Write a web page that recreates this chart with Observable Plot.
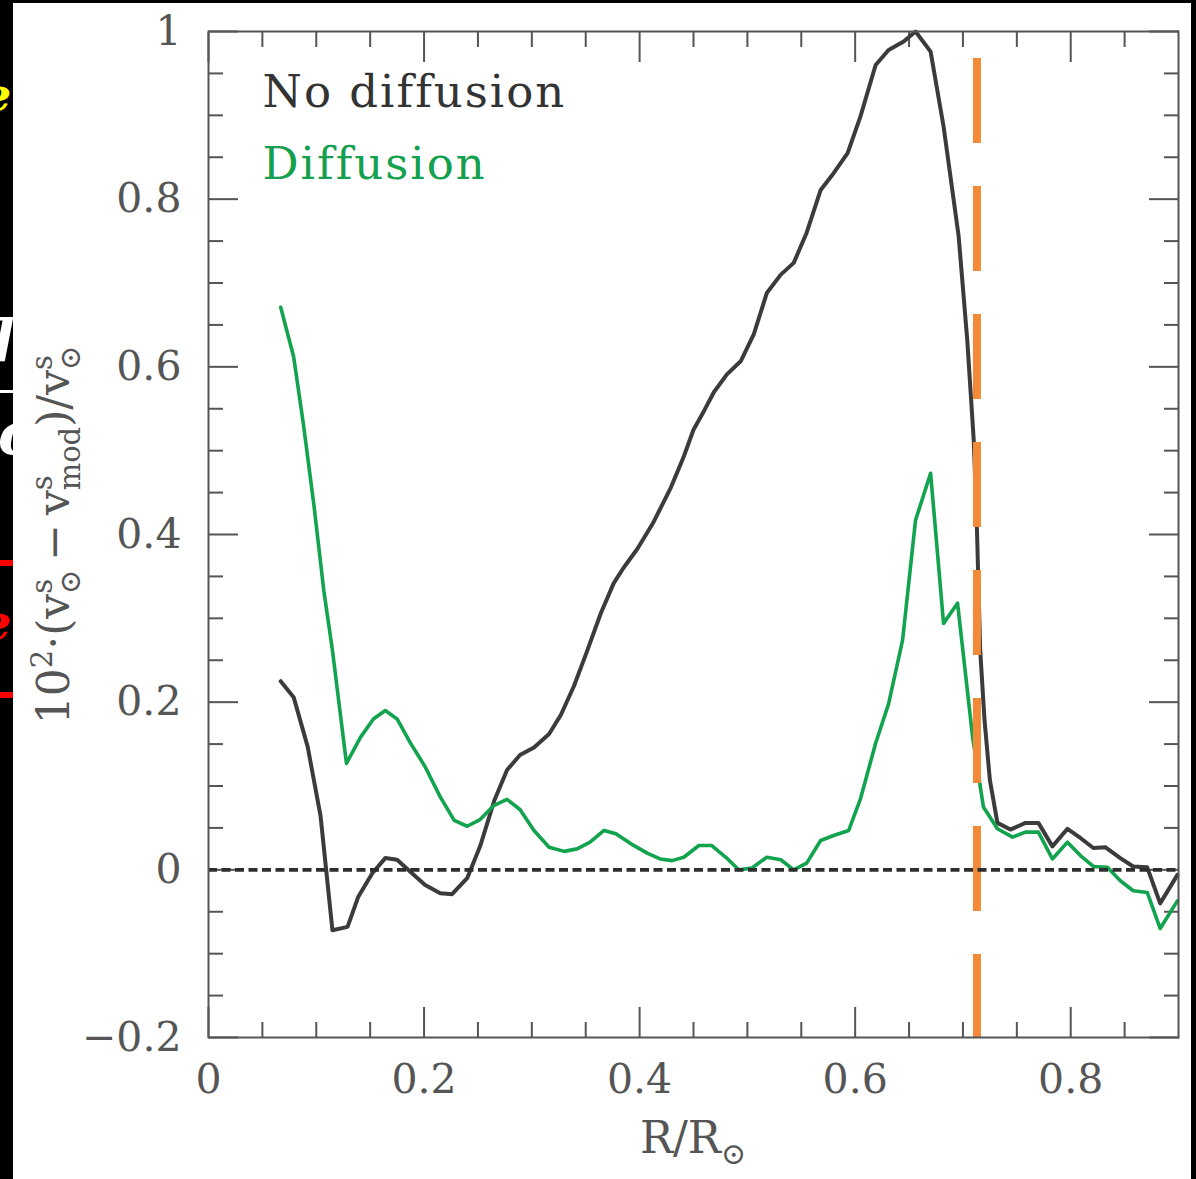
<!DOCTYPE html>
<html><head><meta charset="utf-8">
<script src="https://cdn.jsdelivr.net/npm/d3@7"></script>
<script src="https://cdn.jsdelivr.net/npm/@observablehq/plot@0.6"></script>
<style>
html,body{margin:0;padding:0;background:#000;width:1196px;height:1179px;overflow:hidden;}
#panel{position:absolute;left:13px;top:3px;width:1178px;height:1176px;background:#fff;}
#strip{position:absolute;left:0;top:0;width:13px;height:1179px;overflow:hidden;}
.frag{position:absolute;font-family:"DejaVu Serif";font-style:italic;font-weight:bold;white-space:nowrap;line-height:1;}
.bar{position:absolute;left:0;width:13px;}
</style></head><body>
<div id="strip">
  <div class="frag" style="top:72px;left:-18px;font-size:46px;color:#ffff00;">e</div>
  <div class="frag" style="top:312px;left:-26px;font-size:58px;color:#fff;">d</div>
  <div class="bar" style="top:390px;height:3px;background:#fff;"></div>
  <div class="frag" style="top:405px;left:-2px;font-size:58px;color:#fff;">c</div>
  <div class="bar" style="top:560px;height:6px;background:#ff0000;"></div>
  <div class="frag" style="top:598px;left:-20px;font-size:50px;color:#ff0000;">e</div>
  <div class="bar" style="top:692px;height:6px;background:#ff0000;"></div>
</div>
<div id="panel"></div>
<script>
// ---- data ----
const noDiffR = [0.067,0.079,0.092,0.104,0.115,0.129,0.139,0.152,0.164,0.175,0.187,0.201,0.215,0.226,0.240,0.252,0.265,0.277,0.289,0.302,0.316,0.327,0.339,0.351,0.364,0.376,0.385,0.398,0.413,0.429,0.441,0.450,0.460,0.469,0.481,0.494,0.506,0.518,0.531,0.543,0.555,0.568,0.580,0.593,0.605,0.619,0.631,0.645,0.656,0.670,0.682,0.696,0.704,0.710,0.713,0.716,0.720,0.725,0.732,0.744,0.758,0.770,0.783,0.797,0.809,0.821,0.832,0.846,0.858,0.871,0.883,0.899];
const noDiffV = [0.225,0.206,0.147,0.064,-0.072,-0.068,-0.032,-0.004,0.014,0.012,-0.002,-0.018,-0.028,-0.029,-0.010,0.028,0.082,0.119,0.137,0.146,0.162,0.185,0.219,0.260,0.306,0.342,0.360,0.383,0.415,0.456,0.493,0.525,0.548,0.570,0.591,0.607,0.639,0.688,0.710,0.724,0.760,0.811,0.831,0.855,0.899,0.960,0.978,0.988,1.000,0.976,0.887,0.756,0.632,0.513,0.406,0.262,0.179,0.107,0.056,0.048,0.056,0.056,0.028,0.049,0.038,0.026,0.027,0.014,0.004,0.003,-0.040,-0.006];
const diffR = [0.067,0.079,0.088,0.098,0.107,0.115,0.128,0.141,0.153,0.164,0.175,0.187,0.201,0.215,0.228,0.240,0.252,0.265,0.277,0.289,0.302,0.316,0.330,0.342,0.354,0.367,0.378,0.392,0.407,0.419,0.430,0.441,0.455,0.467,0.480,0.492,0.504,0.518,0.531,0.543,0.555,0.568,0.580,0.594,0.605,0.619,0.631,0.644,0.656,0.670,0.682,0.695,0.709,0.719,0.732,0.746,0.758,0.770,0.783,0.797,0.809,0.821,0.834,0.846,0.858,0.871,0.883,0.899];
const diffV = [0.671,0.612,0.532,0.433,0.333,0.262,0.127,0.158,0.180,0.190,0.180,0.152,0.123,0.087,0.059,0.052,0.060,0.077,0.084,0.072,0.047,0.027,0.022,0.025,0.033,0.047,0.043,0.031,0.020,0.013,0.011,0.015,0.029,0.029,0.015,0.000,0.002,0.015,0.012,0.000,0.008,0.035,0.041,0.047,0.085,0.151,0.198,0.274,0.417,0.473,0.294,0.318,0.158,0.075,0.049,0.039,0.045,0.045,0.013,0.033,0.017,0.004,0.003,-0.013,-0.025,-0.027,-0.070,-0.037];
const seriesNames = ["No diffusion", "Diffusion"];
const convectionBase = [0.713];
const zeroLine = [0];
const xMajorTicks = [0,0.2,0.4,0.6,0.8];
const xMinorTicks = [0.05,0.1,0.15,0.25,0.3,0.35,0.45,0.5,0.55,0.65,0.7,0.75,0.85];
const yMajorTicks = [-0.2,0,0.2,0.4,0.6,0.8,1];
const yMinorTicks = [-0.15,-0.1,-0.05,0.05,0.1,0.15,0.25,0.3,0.35,0.45,0.5,0.55,0.65,0.7,0.75,0.85,0.9,0.95];

const noDiff = noDiffR.map((r,i) => ({r, v: noDiffV[i]}));
const diff = diffR.map((r,i) => ({r, v: diffV[i]}));

const font = "DejaVu Serif";
const axisColor = "#555";
const fmt = d => d < 0 ? "\u2212" + Math.abs(d) : String(d);
const tickOpts = {stroke: axisColor, strokeWidth: 2, fill: "none", label: null};

const chart = Plot.plot({
  width: 1178, height: 1176,
  marginLeft: 195, marginRight: 13, marginTop: 28, marginBottom: 142,
  x: {domain: [0, 0.9]},
  y: {domain: [-0.2, 1]},
  style: {background: "#fff", fontFamily: font, color: "#555"},
  marks: [
    Plot.axisX(xMinorTicks, {anchor: "bottom", tickSize: -15, ...tickOpts}),
    Plot.axisX(xMinorTicks, {anchor: "top", tickSize: -15, ...tickOpts}),
    Plot.axisX(xMajorTicks, {anchor: "bottom", tickSize: -30, ...tickOpts}),
    Plot.axisX(xMajorTicks, {anchor: "top", tickSize: -30, ...tickOpts}),
    Plot.axisY(yMinorTicks, {anchor: "left", tickSize: -15, ...tickOpts}),
    Plot.axisY(yMinorTicks, {anchor: "right", tickSize: -15, ...tickOpts}),
    Plot.axisY(yMajorTicks, {anchor: "left", tickSize: -30, ...tickOpts}),
    Plot.axisY(yMajorTicks, {anchor: "right", tickSize: -30, ...tickOpts}),
    Plot.axisX(xMajorTicks, {anchor: "bottom", tickSize: 0, tickPadding: 26, tickFormat: fmt, fontSize: 41, fill: "#555", label: null}),
    Plot.axisY(yMajorTicks, {anchor: "left", tickSize: 0, tickPadding: 27, tickFormat: fmt, fontSize: 41, fill: "#555", label: null}),
    Plot.line(noDiff, {x: "r", y: "v", stroke: "#3b3b3b", strokeWidth: 4}),
    Plot.line(diff, {x: "r", y: "v", stroke: "#12a34e", strokeWidth: 3.6}),
    Plot.ruleX(convectionBase, {stroke: "#f28a3a", strokeWidth: 8, strokeDasharray: "85,43", strokeDashoffset: 101}),
    Plot.ruleY(zeroLine, {stroke: "#2e2e2e", strokeWidth: 3.8, strokeDasharray: "9,4.5"}),
    Plot.frame({stroke: axisColor, strokeWidth: 2}),
    Plot.text([seriesNames[0]], {frameAnchor: "top-left", dx: 54, dy: 44, textAnchor: "start", lineAnchor: "top", fontSize: 45, fill: "#333"}),
    Plot.text([seriesNames[1]], {frameAnchor: "top-left", dx: 54, dy: 116, textAnchor: "start", lineAnchor: "top", fontSize: 45, fill: "#14a04e"})
  ]
});

const svg = d3.select(chart);
svg.selectAll('g[aria-label="text"] text').attr("letter-spacing", "2px");

// y-axis title
const yl = svg.append("text")
  .attr("transform", "translate(56,532) rotate(-90)")
  .attr("text-anchor", "middle")
  .attr("font-family", font)
  .attr("font-size", 44)
  .attr("fill", "#555");
yl.append("tspan").text("10");
yl.append("tspan").attr("dy", -17).attr("font-size", 29).text("2");
yl.append("tspan").attr("dy", 17).text("\u00b7(v");
yl.append("tspan").attr("dy", -17).attr("font-size", 29).text("s");
yl.append("tspan").attr("dx", -15).attr("dy", 28).attr("font-size", 29).text("\u2299");
yl.append("tspan").attr("dy", -11).text("\u2009\u2212\u2009v");
yl.append("tspan").attr("dy", -17).attr("font-size", 29).text("s");
yl.append("tspan").attr("dx", -15).attr("dy", 28).attr("font-size", 29).text("mod");
yl.append("tspan").attr("dy", -11).text(")/v");
yl.append("tspan").attr("dy", -17).attr("font-size", 29).text("s");
yl.append("tspan").attr("dx", -15).attr("dy", 28).attr("font-size", 29).text("\u2299");

// x-axis title
const xl = svg.append("text")
  .attr("transform", "translate(680,1150)")
  .attr("text-anchor", "middle")
  .attr("font-family", font)
  .attr("font-size", 44)
  .attr("fill", "#555");
xl.append("tspan").text("R/R");
xl.append("tspan").attr("dy", 11).attr("font-size", 30).text("\u2299");

document.getElementById("panel").appendChild(chart);
</script>
</body></html>
